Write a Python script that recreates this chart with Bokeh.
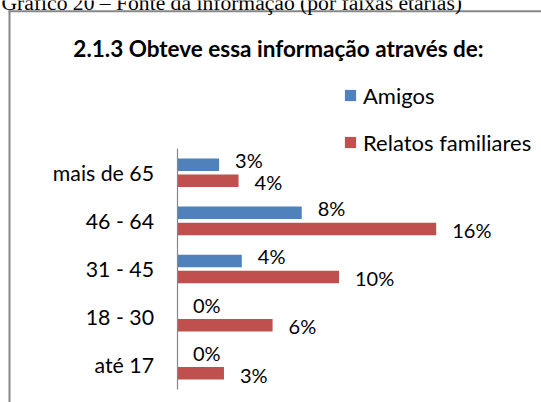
import numpy as np
from bokeh.plotting import figure
from bokeh.models import (ColumnDataSource, FixedTicker, Label, Range1d,
                          LinearAxis)
from bokeh.core.properties import value
from bokeh.embed import file_html
from bokeh.resources import INLINE

# ---- data ----
categories = ["até 17", "18 - 30", "31 - 45", "46 - 64", "mais de 65"]
amigos = [0.0, 0.0, 4.0, 7.7, 2.6]
relatos = [2.9, 5.9, 10.0, 16.0, 3.8]
series_names = ["Amigos", "Relatos familiares"]
title_text = "2.1.3 Obteve essa informação através de:"
caption_text = "Gráfico 20 – Fonte da informação (por faixas etárias)"

BLUE = "#4F81BD"
RED = "#C0504D"
FONT = "Lato"
BORDER = "#878787"

# ---- layout constants (pixels) ----
W, H = 541, 402
PX_X = 16.2          # pixels per percent
PX_Y = 48.1          # pixels per category band
X0 = 176.5           # canvas x of the value 0
Y0 = 364.7           # canvas y of the first category

def dx(px):
    return (px - X0) / PX_X

def dy(py):
    return (Y0 - py) / PX_Y

x_start, x_end = dx(0), dx(W)
y_start, y_end = dy(H), dy(0)

idx = np.arange(len(categories))
src = ColumnDataSource(dict(
    y_a=idx + 0.167,
    y_r=idx - 0.167,
    amigos=amigos,
    relatos=relatos,
    lab_a=[f"{round(v)}%" for v in amigos],
    lab_r=[f"{round(v)}%" for v in relatos],
))

p = figure(width=W, height=H,
           x_range=Range1d(x_start, x_end), y_range=Range1d(y_start, y_end),
           x_axis_location=None, y_axis_location=None,
           output_backend="svg", toolbar_location=None,
           min_border=0)
p.outline_line_color = None
p.xgrid.visible = False
p.ygrid.visible = False

# chart-area border (left and top edges of the box)
p.segment(x0=[dx(9), dx(8)], y0=[dy(10), dy(10.8)],
          x1=[dx(9), dx(W + 20)], y1=[dy(H + 20), dy(10.8)],
          line_color=BORDER, line_width=2)

# document caption, cut off by the top of the picture
p.add_layout(Label(x=dx(1), y=dy(2.5), text=caption_text, text_align="left",
                   text_baseline="alphabetic", text_font="Liberation Serif",
                   text_font_size="21.6px", text_color="black"))

ax = LinearAxis(fixed_location=0)
ax.ticker = FixedTicker(ticks=[int(i) for i in idx])
ax.major_label_overrides = {int(i): c for i, c in zip(idx, categories)}
ax.bounds = (-0.5, len(categories) - 0.5)
ax.axis_line_color = "#868686"
ax.axis_line_width = 1.2
ax.major_tick_line_color = None
ax.minor_tick_line_color = None
ax.major_tick_out = 0
ax.major_tick_in = 0
ax.major_label_standoff = 23
ax.major_label_text_font = FONT
ax.major_label_text_font_size = "21.3px"
ax.major_label_text_color = "black"
p.add_layout(ax, "left")

p.hbar(y="y_a", left=0, right="amigos", height=0.26, source=src,
       fill_color=BLUE, line_color=None, legend_label=series_names[0])
p.hbar(y="y_r", left=0, right="relatos", height=0.26, source=src,
       fill_color=RED, line_color=None, legend_label=series_names[1])

p.text(x="amigos", y="y_a", text="lab_a", source=src, x_offset=16, y_offset=-4.5,
       text_baseline="middle", text_align="left", text_font=value(FONT),
       text_font_size="20px", text_color="black")
p.text(x="relatos", y="y_r", text="lab_r", source=src, x_offset=16, y_offset=1.3,
       text_baseline="middle", text_align="left", text_font=value(FONT),
       text_font_size="20px", text_color="black")

p.add_layout(Label(x=dx(278), y=dy(47.5), text=title_text, text_align="center",
                   text_baseline="alphabetic", text_font=FONT,
                   text_font_style="bold", text_font_size="22.5px",
                   text_color="black"))

lg = p.legend[0]
lg.location = (343, 246)
lg.padding = 0
lg.margin = 0
lg.border_line_color = None
lg.background_fill_alpha = 0
lg.glyph_width = 14
lg.glyph_height = 14
lg.label_standoff = 6
lg.spacing = 19
lg.label_height = 28
lg.label_text_font = FONT
lg.label_text_font_size = "22px"
lg.label_text_color = "black"

open("out.html", "w").write(file_html(p, INLINE))
